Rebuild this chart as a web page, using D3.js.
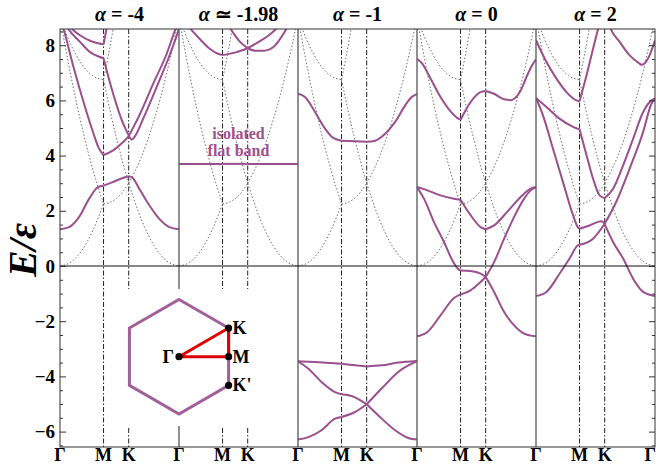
<!DOCTYPE html>
<html><head><meta charset="utf-8">
<script src="https://cdn.jsdelivr.net/npm/d3@7"></script>
<style>body{margin:0;background:#fff}svg{display:block}</style>
</head><body>
<svg id="chart" width="656" height="465"></svg>
<script>
// ---------------- data ----------------
const pathLabels = ["Γ", "M", "K", "Γ"];
const pathK = [0, 1, 1.577, 2.732];
const panelAlpha = ["= -4", "≃ -1.98", "= -1", "= 0", "= 2"];
const yMajorTicks = [-6, -4, -2, 0, 2, 4, 6, 8];
const flatBandLabel = ["isolated", "flat band"];

// empty-lattice (free particle) bands, dotted gray
const emptyLattice = [
  [[0,0],[0.25,0.14],[0.5,0.56],[0.75,1.27],[1,2.25]],
  [[0,9],[0.25,6.89],[0.5,5.06],[0.75,3.52],[1,2.25]],
  [[0,9],[0.25,8.02],[0.5,7.31],[0.75,6.89],[1,6.75]],
  [[1,2.25],[1.144,2.30],[1.289,2.44],[1.433,2.67],[1.577,3.0]],
  [[1,6.75],[1.144,5.67],[1.289,4.69],[1.433,3.80],[1.577,3.0]],
  [[1,6.75],[1.1,7.55],[1.2,8.40],[1.3,9.29]],
  [[1.577,3.0],[1.866,1.69],[2.155,0.75],[2.443,0.19],[2.732,0]],
  [[1.577,3.0],[1.866,3.94],[2.155,5.25],[2.443,6.94],[2.732,9]]
];

// alpha = -4
const bandsAlphaM4 = [
  [[0,1.33],[0.21,1.41],[0.44,1.78],[0.67,2.44],[0.87,2.86],[1,2.91],[1.21,3.04],[1.44,3.19],[1.577,3.25],[1.67,3.19],[1.82,2.80],[2.05,2.20],[2.28,1.71],[2.51,1.41],[2.732,1.33]],
  [[0,9.0],[0.09,8.54],[0.31,7.21],[0.54,5.94],[0.77,4.79],[0.88,4.31],[1,4.02],[1.22,4.19],[1.45,4.49],[1.577,4.70],[1.84,5.52],[2.14,6.61],[2.45,7.69],[2.64,8.54],[2.732,8.9]],
  [[0,9.2],[0.19,8.6],[0.46,8.12],[0.69,7.75],[0.90,7.58],[1,7.53],[1.07,7.09],[1.22,6.24],[1.42,5.28],[1.577,4.74],[1.645,4.58],[1.72,4.70],[1.91,5.34],[2.22,6.49],[2.53,7.69],[2.72,8.54],[2.732,8.6]],
  [[0,9.3],[0.27,8.6],[0.46,8.36],[0.69,8.16],[0.90,8.06],[1,8.03],[1.07,8.62],[1.15,9.4]]
];
// alpha ~ -1.98
const bandsAlphaM198 = [
  [[0,3.70],[1,3.70],[1.577,3.70],[2.732,3.70]],
  [[0,9.1],[0.27,8.58],[0.46,8.25],[0.69,7.89],[0.88,7.70],[1,7.64],[1.30,7.74],[1.577,7.89],[1.84,8.13],[2.07,8.37],[2.22,8.58],[2.45,9.0]],
  [[1,9.1],[1.19,8.58],[1.38,8.16],[1.577,7.89],[1.76,7.80],[1.95,7.80],[2.18,7.95],[2.33,8.25],[2.45,8.55],[2.6,9.0]]
];
// alpha = -1
const bandsAlphaM1 = [
  [[0,6.24],[0.16,6.12],[0.39,5.58],[0.62,4.98],[0.81,4.64],[1,4.54],[1.31,4.52],[1.577,4.50],[1.77,4.54],[2.0,4.79],[2.23,5.22],[2.46,5.82],[2.61,6.12],[2.732,6.24]],
  [[0,-3.45],[0.39,-3.48],[1,-3.54],[1.31,-3.60],[1.577,-3.64],[1.92,-3.60],[2.30,-3.50],[2.732,-3.44]],
  [[0,-3.45],[0.24,-3.72],[0.54,-4.20],[0.85,-4.57],[1,-4.65],[1.23,-4.71],[1.577,-5.01],[1.84,-5.41],[2.23,-5.95],[2.53,-6.23],[2.732,-6.29]],
  [[0,-6.29],[0.24,-6.20],[0.54,-5.95],[0.85,-5.53],[1,-5.47],[1.31,-5.29],[1.577,-5.01],[1.92,-4.44],[2.30,-3.84],[2.732,-3.45]]
];
// alpha = 0
const bandsAlpha0 = [
  [[0,7.51],[0.12,7.33],[0.31,6.79],[0.54,6.12],[0.77,5.60],[0.93,5.36],[1,5.30],[1.23,5.94],[1.46,6.30],[1.577,6.34],[1.77,6.24],[2.0,6.04],[2.15,6.01],[2.23,6.06],[2.38,6.36],[2.53,6.91],[2.65,7.29],[2.732,7.49]],
  [[0,2.86],[0.24,2.74],[0.54,2.56],[0.85,2.44],[1,2.40],[1.23,1.84],[1.46,1.41],[1.577,1.33],[1.77,1.47],[2.07,1.96],[2.38,2.50],[2.61,2.80],[2.732,2.86]],
  [[0,2.86],[0.16,2.44],[0.39,1.59],[0.62,0.87],[0.81,0.21],[0.96,-0.13],[1,-0.16],[1.23,-0.18],[1.46,-0.28],[1.577,-0.40],[1.77,-0.94],[2.0,-1.67],[2.23,-2.15],[2.46,-2.45],[2.732,-2.55]],
  [[0,-2.55],[0.24,-2.39],[0.54,-1.79],[0.85,-1.16],[1,-1.03],[1.23,-0.88],[1.46,-0.58],[1.577,-0.40],[1.77,0.14],[2.0,0.99],[2.23,1.78],[2.46,2.44],[2.61,2.74],[2.732,2.86]]
];
// alpha = 2
const bandsAlpha2 = [
  [[0,8.18],[0.24,7.39],[0.47,6.79],[0.70,6.30],[0.93,6.00],[1,5.97],[1.16,6.91],[1.31,7.87],[1.42,8.55],[1.577,9.3],[1.73,8.55],[1.92,8.12],[2.15,7.63],[2.38,7.33],[2.42,7.29],[2.57,7.51],[2.732,8.18]],
  [[0,6.09],[0.24,5.76],[0.54,5.34],[0.85,5.04],[1,4.95],[1.16,4.01],[1.31,3.16],[1.46,2.56],[1.577,2.46],[1.77,2.80],[2.0,3.65],[2.23,4.61],[2.46,5.58],[2.65,6.00],[2.732,6.06]],
  [[0,6.09],[0.16,5.46],[0.39,4.25],[0.62,3.04],[0.85,1.84],[0.96,1.41],[1,1.35],[1.23,1.47],[1.50,1.62],[1.577,1.52],[1.77,0.87],[2.0,0.27],[2.23,-0.46],[2.46,-0.94],[2.732,-1.09]],
  [[0,-1.09],[0.24,-0.94],[0.54,-0.28],[0.77,0.27],[0.96,0.75],[1,0.77],[1.31,0.99],[1.577,1.53],[1.84,2.32],[2.15,3.53],[2.46,4.86],[2.65,5.88],[2.732,6.06]]
];
const panelBands = [bandsAlphaM4, bandsAlphaM198, bandsAlphaM1, bandsAlpha0, bandsAlpha2];

// Brillouin-zone inset (reciprocal-space units, |ΓM| = 1)
const bzHexagon = [[0,1.1547],[1,0.5774],[1,-0.5774],[0,-1.1547],[-1,-0.5774],[-1,0.5774]];
const bzPath = [[0,0],[1,0.5774],[1,0],[0,0]];
const bzPointNames = ["Γ", "K", "M", "K'"];
const bzPointCoords = [[0,0],[1,0.5774],[1,0],[1,-0.5774]];

// ---------------- layout ----------------
const svg = d3.select("#chart");
const pLeft = 60, panelW = 119, pTop = 29, pBottom = 447;
const nP = panelBands.length;
const pRight = pLeft + panelW * nP;
const purple = "#9a4f8f";
const serif = "'Liberation Serif','Times New Roman',serif";

const y = d3.scaleLinear().domain([-6.558, 8.587]).range([pBottom, pTop]);
const yMinor = d3.range(-6.5, 8.51, 0.5);

const defs = svg.append("defs");

const gPanels = svg.append("g");
panelBands.forEach((bands, p) => {
  const x0 = pLeft + p * panelW;
  const x = d3.scaleLinear().domain([0, pathK[3]]).range([x0, x0 + panelW]);
  const cid = "clip" + p;
  defs.append("clipPath").attr("id", cid).append("rect")
    .attr("x", x0).attr("y", pTop).attr("width", panelW).attr("height", pBottom - pTop);
  const g = gPanels.append("g").attr("clip-path", `url(#${cid})`);
  const line = d3.line().x(d => x(d[0])).y(d => y(d[1])).curve(d3.curveMonotoneX);

  g.selectAll("line.sym").data(pathK.slice(1, 3)).join("line")
    .attr("x1", d => x(d)).attr("x2", d => x(d)).attr("y1", pTop).attr("y2", pBottom)
    .attr("stroke", "#222").attr("stroke-width", 1).attr("stroke-dasharray", "5,2,1.5,2");

  g.selectAll("path.el").data(emptyLattice).join("path")
    .attr("d", line).attr("fill", "none").attr("stroke", "#6e6e6e")
    .attr("stroke-width", 1).attr("stroke-dasharray", "1.5,2");

  const segs = [];
  bands.forEach(b => {
    let cur = [];
    b.forEach((pt, i) => {
      cur.push(pt);
      if (i > 0 && i < b.length - 1 && (Math.abs(pt[0] - pathK[1]) < 1e-3 || Math.abs(pt[0] - pathK[2]) < 1e-3)) {
        segs.push(cur); cur = [pt];
      }
    });
    segs.push(cur);
  });
  g.selectAll("path.band").data(segs).join("path")
    .attr("d", line).attr("fill", "none").attr("stroke", purple)
    .attr("stroke-width", 2).attr("stroke-linejoin", "round");

  const t = svg.append("text").attr("x", x0 + panelW / 2).attr("y", 21)
    .attr("text-anchor", "middle").attr("font-family", serif).attr("font-weight", "bold")
    .attr("font-size", 20);
  t.append("tspan").attr("font-style", "italic").text("α");
  t.append("tspan").text(" " + panelAlpha[p]);

  svg.selectAll(null).data(pathLabels.slice(0, 3)).join("text")
    .attr("x", (d, i) => x(pathK[i])).attr("y", 461)
    .attr("text-anchor", "middle").attr("font-family", serif).attr("font-weight", "bold")
    .attr("font-size", 18).text(d => d);
});
svg.append("text").attr("x", pRight + 1).attr("y", 461).attr("text-anchor", "end")
  .attr("font-family", serif).attr("font-weight", "bold").attr("font-size", 18).text(pathLabels[3]);

svg.selectAll("line.sep").data(d3.range(1, nP)).join("line")
  .attr("x1", i => pLeft + i * panelW).attr("x2", i => pLeft + i * panelW)
  .attr("y1", pTop).attr("y2", pBottom).attr("stroke", "#555").attr("stroke-width", 1.3);
svg.append("line").attr("x1", pLeft).attr("x2", pRight).attr("y1", y(0)).attr("y2", y(0))
  .attr("stroke", "#111").attr("stroke-width", 1);
svg.append("rect").attr("x", pLeft).attr("y", pTop).attr("width", pRight - pLeft).attr("height", pBottom - pTop)
  .attr("fill", "none").attr("stroke", "#333").attr("stroke-width", 1);

const gL = svg.append("g").attr("transform", `translate(${pLeft},0)`)
  .call(d3.axisRight(y).tickValues(yMinor).tickSize(3).tickFormat(""));
gL.select(".domain").remove();
gL.selectAll(".tick line").attr("x2", d => (Math.abs(d % 2) < 1e-6 ? 6 : 3)).attr("stroke", "#333");
const gR = svg.append("g").attr("transform", `translate(${pRight},0)`)
  .call(d3.axisLeft(y).tickValues(yMinor).tickSize(3).tickFormat(""));
gR.select(".domain").remove();
gR.selectAll(".tick line").attr("x2", d => (Math.abs(d % 2) < 1e-6 ? -6 : -3)).attr("stroke", "#333");

svg.selectAll("text.yl").data(yMajorTicks).join("text")
  .attr("x", 55).attr("y", d => y(d) + 6.5).attr("text-anchor", "end")
  .attr("font-family", serif).attr("font-weight", "bold").attr("font-size", 19)
  .text(d => d < 0 ? "\u2212" + Math.abs(d) : String(d));

svg.append("text").attr("transform", "translate(36,250) rotate(-90)")
  .attr("text-anchor", "middle").attr("font-family", serif).attr("font-weight", "bold")
  .attr("font-style", "italic").attr("font-size", 40).text("E/ε");

svg.selectAll("text.fb").data(flatBandLabel).join("text")
  .attr("x", pLeft + 1.5 * panelW).attr("y", (d, i) => 138.5 + i * 17.8)
  .attr("text-anchor", "middle").attr("font-family", serif).attr("font-weight", "bold")
  .attr("font-size", 16).attr("fill", "#a0508f").text(d => d);

// ---------------- BZ inset ----------------
const bx = d3.scaleLinear().domain([-1, 1]).range([179 - 49.6, 179 + 49.6]);
const by = d3.scaleLinear().domain([-1, 1]).range([356.7 + 49.6, 356.7 - 49.6]);
svg.append("rect").attr("x", 108).attr("y", 289).attr("width", 148).attr("height", 137).attr("fill", "#fff");
svg.append("polygon").attr("points", bzHexagon.map(d => [bx(d[0]), by(d[1])].join(",")).join(" "))
  .attr("fill", "none").attr("stroke", "#a0609a").attr("stroke-width", 3).attr("stroke-linejoin", "miter");
svg.append("path").attr("d", d3.line().x(d => bx(d[0])).y(d => by(d[1]))(bzPath))
  .attr("fill", "none").attr("stroke", "#e00000").attr("stroke-width", 3);
svg.selectAll("circle.bz").data(bzPointCoords).join("circle")
  .attr("cx", d => bx(d[0])).attr("cy", d => by(d[1])).attr("r", 3.6).attr("fill", "#000");
svg.selectAll("text.bz").data(bzPointNames).join("text")
  .attr("x", (d, i) => bx(bzPointCoords[i][0]) + (i === 0 ? -5 : 4))
  .attr("y", (d, i) => by(bzPointCoords[i][1]) + 6)
  .attr("text-anchor", (d, i) => i === 0 ? "end" : "start")
  .attr("font-family", serif).attr("font-weight", "bold").attr("font-size", 18).text(d => d);
</script>
</body></html>
